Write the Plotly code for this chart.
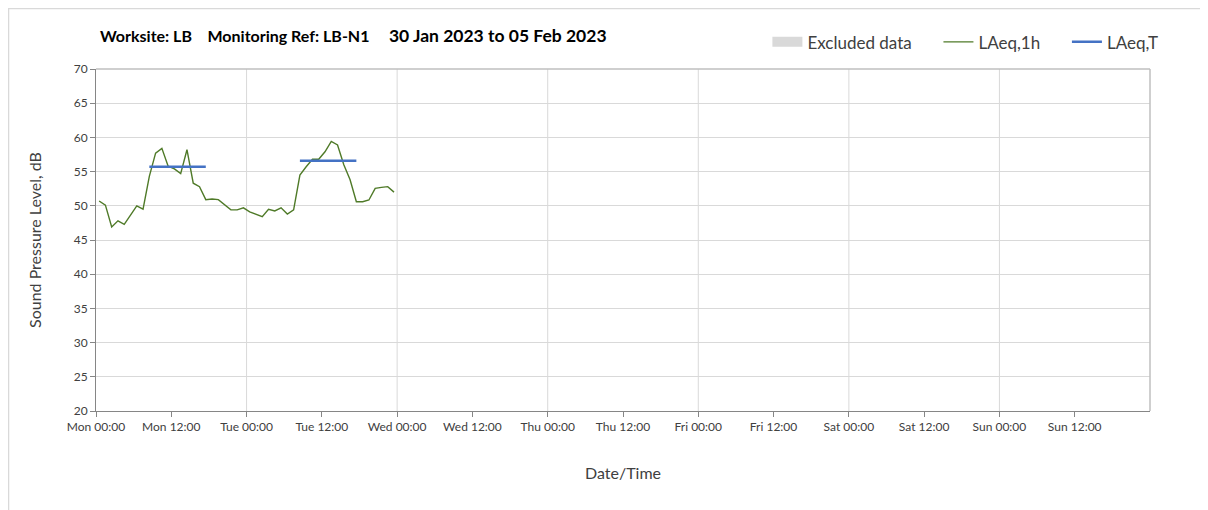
import plotly.graph_objects as go
import pandas as pd

# Hourly LAeq,1h values (hour periods starting Mon 30 Jan 2023 00:00)
start = "2023-01-30 00:30"
laeq_1h = [50.7, 50.1, 46.9, 47.8, 47.3, 48.7, 50.0, 49.5, 54.3, 57.7, 58.4, 55.8,
           55.4, 54.7, 58.2, 53.3, 52.8, 50.9, 51.0, 50.9, 50.2, 49.4, 49.4, 49.7,
           49.1, 48.7, 48.4, 49.5, 49.25, 49.7, 48.8, 49.4, 54.5, 55.7, 56.8, 56.8,
           57.9, 59.4, 58.9, 56.0, 53.8, 50.6, 50.6, 50.85, 52.55, 52.7, 52.8, 52.0]

# LAeq,T period values (daytime periods)
laeqT_start = ["2023-01-30 08:30", "2023-01-31 08:30"]
laeqT_end = ["2023-01-30 17:30", "2023-01-31 17:30"]
laeqT_value = [55.7, 56.6]

day_lines = pd.date_range("2023-01-30", "2023-02-06", freq="D")
x_range = ["2023-01-30 00:00", "2023-02-06 00:00"]
x_ticks = pd.date_range("2023-01-30 00:00", periods=14, freq="12h")
y_ticks = list(range(20, 71, 5))

times = pd.date_range(start, periods=len(laeq_1h), freq="h")

font_family = "Lato, 'Open Sans', sans-serif"
pad = "\u00a0" * 5

fig = go.Figure()

fig.add_trace(go.Scatter(x=[None], y=[None], mode="lines", name="Excluded data" + pad,
                         line=dict(color="#d9d9d9", width=10)))

fig.add_trace(go.Scatter(x=times, y=laeq_1h, mode="lines", name="LAeq,1h" + pad,
                         line=dict(color="#4f7a28", width=1.4)))

bx, by = [], []
for s, e, v in zip(laeqT_start, laeqT_end, laeqT_value):
    bx += [s, e, None]
    by += [v, v, None]
fig.add_trace(go.Scatter(x=bx, y=by, mode="lines", name="LAeq,T",
                         line=dict(color="#4472c4", width=2.5)))

shapes = []
for d in day_lines[1:-1]:
    shapes.append(dict(type="line", xref="x", yref="paper", x0=d, x1=d, y0=0, y1=1,
                       line=dict(color="#d9d9d9", width=1), layer="below"))
# outer chart border
shapes.append(dict(type="rect", xref="paper", yref="paper",
                   x0=-0.0830, x1=1.0536, y0=-0.33, y1=1.177,
                   line=dict(color="#d9d9d9", width=1.5)))
# top and right plot border
shapes.append(dict(type="line", xref="paper", yref="paper", x0=0, x1=1, y0=1, y1=1,
                   line=dict(color="#bfbfbf", width=1.5)))
shapes.append(dict(type="line", xref="paper", yref="paper", x0=1, x1=1, y0=0, y1=1,
                   line=dict(color="#bfbfbf", width=1.5)))

title_html = ("<b>Worksite: LB&nbsp;&nbsp;&nbsp;&nbsp;Monitoring Ref: LB-N1&nbsp;&nbsp;&nbsp;&nbsp;&nbsp;"
              "<span style='font-size:17.5px'>30 Jan 2023 to 05 Feb 2023</span></b>")

fig.update_layout(
    width=1200, height=502,
    margin=dict(l=88, r=58, t=61, b=99, autoexpand=False),
    paper_bgcolor="white", plot_bgcolor="white",
    font=dict(family=font_family, color="#404040", size=12),
    shapes=shapes,
    showlegend=True,
    legend=dict(orientation="h", x=0.637, xanchor="left", y=1.078, yanchor="middle",
                font=dict(size=17, color="#404040"),
                bgcolor="rgba(0,0,0,0)"),
    annotations=[dict(
        text=title_html,
        xref="paper", yref="paper", x=0.0015, y=1.097, xanchor="left", yanchor="middle",
        showarrow=False, font=dict(size=16, color="#000000"))],
    xaxis=dict(
        range=x_range, type="date",
        tickvals=x_ticks,
        tickformat="%a %H:%M",
        showgrid=False, ticks="outside", ticklen=5, tickcolor="#868686",
        showline=True, linecolor="#868686", linewidth=1, mirror=False,
        tickfont=dict(size=12, color="#404040"),
        title=dict(text="Date/Time", font=dict(size=16, color="#404040"), standoff=34),
    ),
    yaxis=dict(
        range=[20, 70], tickvals=y_ticks,
        showgrid=True, gridcolor="#d9d9d9", gridwidth=1,
        ticks="outside", ticklen=5, tickcolor="#868686",
        showline=True, linecolor="#868686", linewidth=1,
        zeroline=False,
        tickfont=dict(size=12, color="#404040"),
        title=dict(text="Sound Pressure Level, dB", font=dict(size=16, color="#404040"),
                   standoff=28),
    ),
)

fig.write_html("out.html")
